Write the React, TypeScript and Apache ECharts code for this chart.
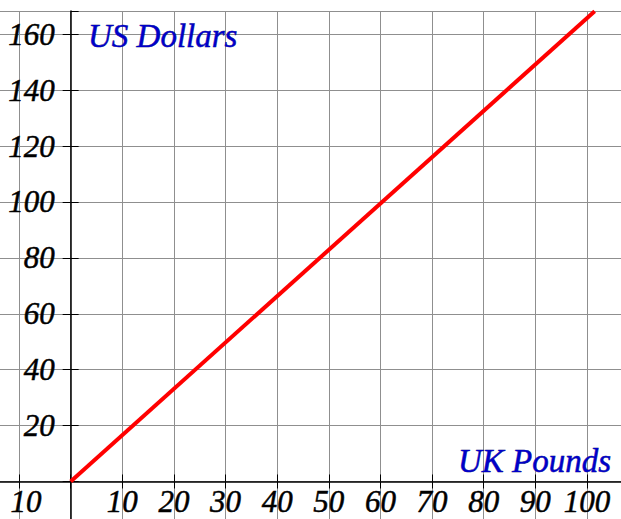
import React, { useEffect, useRef } from "react";
import * as echarts from "echarts";

// Exchange-rate line: UK Pounds -> US Dollars
const pounds = [0, 101.5];
const dollars = [0, 168.2];

const xTickValues = [-10, 10, 20, 30, 40, 50, 60, 70, 80, 90, 100];
const yTickValues = [20, 40, 60, 80, 100, 120, 140, 160];

const xAxisTitle = "UK Pounds";
const yAxisTitle = "US Dollars";

const FONT = "Liberation Serif";

export default function App() {
  const ref = useRef<HTMLDivElement>(null);
  useEffect(() => {
    if (!ref.current) return;
    const chart = echarts.init(ref.current, null, { renderer: "svg" });
    const data = pounds.map((p, i) => [p, dollars[i]]);
    const labelStyle = {
      fontFamily: FONT,
      fontStyle: "italic",
      fontSize: 31,
      color: "#000",
      textBorderColor: "#000",
      textBorderWidth: 0.5,
    };
    const xFmt = (v: number) => {
      const r = Math.round(v);
      if (xTickValues.indexOf(r) < 0) return "";
      return r < 0 ? `{neg|${Math.abs(r)}}` : String(r);
    };
    const yFmt = (v: number) =>
      yTickValues.indexOf(Math.round(v)) >= 0 ? String(Math.round(v)) : "";
    const xMin = -20, xMax = 106.6, yMin = -20, yMax = 168.3;
    const gLeft = -32.6, gTop = 11, gW = 653.6, gH = 526.4;
    const xOff = -((0 - xMin) / (xMax - xMin)) * gW; // move y axis to x = 0
    const yOff = -((0 - yMin) / (yMax - yMin)) * gH; // move x axis to y = 0
    const grid = {
      left: gLeft,
      top: gTop,
      width: gW,
      height: gH,
      containLabel: false,
      outerBoundsMode: "none",
    };
    const xBase = { type: "value", min: xMin, max: xMax, interval: 10, position: "bottom", offset: yOff };
    const yBase = { type: "value", min: yMin, max: yMax, interval: 20, position: "left", offset: xOff };
    const titleStyle = {
      fontFamily: FONT,
      fontStyle: "italic",
      fontSize: 33,
      fill: "#0000c8",
      stroke: "#000070",
      lineWidth: 0.5,
      verticalAlign: "middle",
    };
    chart.setOption({
      animation: false,
      backgroundColor: "#fff",
      grid,
      xAxis: [
        {
          ...xBase,
          axisLine: { onZero: false, lineStyle: { color: "#000", width: 1.5 } },
          axisTick: { show: true, inside: false, length: 7, lineStyle: { color: "#000", width: 1 } },
          axisLabel: {
            ...labelStyle,
            formatter: xFmt,
            margin: 5,
            showMaxLabel: false,
            showMinLabel: false,
            hideOverlap: false,
            rich: {
              neg: { ...labelStyle, padding: [0, 0, 0, 14] },
            },
          },
          splitLine: { show: true, lineStyle: { color: "#8f8f8f", width: 1 } },
        },
        {
          ...xBase,
          axisLine: { show: false, onZero: false },
          axisTick: { show: true, inside: true, length: 7, lineStyle: { color: "#000", width: 1 } },
          axisLabel: { show: false },
          splitLine: { show: false },
        },
      ],
      yAxis: [
        {
          ...yBase,
          axisLine: { onZero: false, lineStyle: { color: "#000", width: 1.5 } },
          axisTick: { show: true, inside: false, length: 8, lineStyle: { color: "#000", width: 1 } },
          axisLabel: { ...labelStyle, formatter: yFmt, margin: 16, showMaxLabel: false, showMinLabel: false, hideOverlap: false },
          splitLine: { show: true, lineStyle: { color: "#8f8f8f", width: 1 } },
        },
        {
          ...yBase,
          axisLine: { show: false, onZero: false },
          axisTick: { show: true, inside: true, length: 8, lineStyle: { color: "#000", width: 1 } },
          axisLabel: { show: false },
          splitLine: { show: false },
        },
      ],
      series: [
        {
          type: "line",
          data,
          xAxisIndex: 0,
          yAxisIndex: 0,
          showSymbol: false,
          symbol: "none",
          lineStyle: { color: "#ff0000", width: 4 },
          z: 5,
        },
      ],
      graphic: [
        {
          type: "rect",
          shape: { x: 0, y: 0, width: 9, height: 519 },
          style: { fill: "#fff" },
          z: 0,
          silent: true,
        },
        {
          type: "text",
          x: 88,
          y: 36,
          style: { ...titleStyle, text: yAxisTitle },
          z: 60,
        },
        {
          type: "text",
          x: 611,
          y: 461,
          style: { ...titleStyle, text: xAxisTitle, align: "right" },
          z: 60,
        },
      ],
    });
    return () => chart.dispose();
  }, []);
  return (
    <div
      ref={ref}
      style={{ position: "fixed", left: 0, top: 0, width: 621, height: 519 }}
    />
  );
}
